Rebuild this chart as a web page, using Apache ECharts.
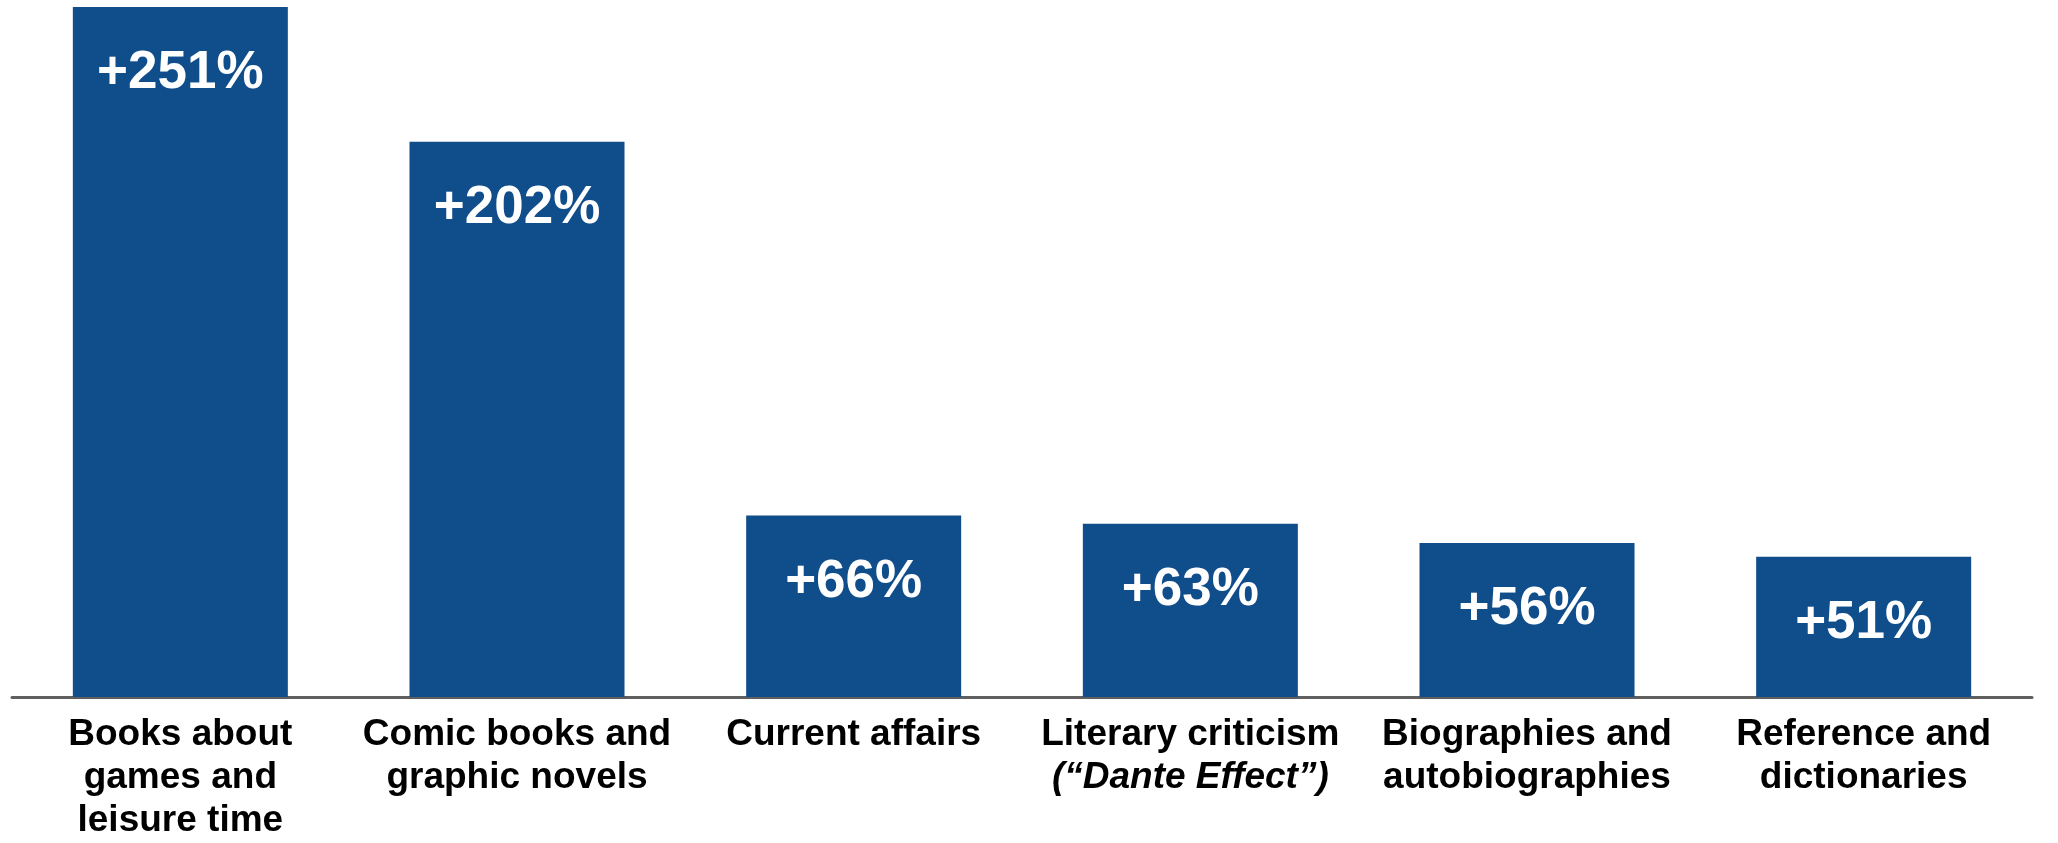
<!DOCTYPE html>
<html>
<head>
<meta charset="utf-8">
<script src="https://cdn.jsdelivr.net/npm/echarts@6/dist/echarts.min.js"></script>
<style>
html,body{margin:0;padding:0;background:#fff;}
#chart{width:2058px;height:843px;}
</style>
</head>
<body>
<div id="chart"></div>
<script>
const categories = [
  "Books about\ngames and\nleisure time",
  "Comic books and\ngraphic novels",
  "Current affairs",
  "Literary criticism\n(\u201cDante Effect\u201d)",
  "Biographies and\nautobiographies",
  "Reference and\ndictionaries"
];
const growthValues = [251, 202, 66, 63, 56, 51];
const valueLabels = ["+251%", "+202%", "+66%", "+63%", "+56%", "+51%"];

const chart = echarts.init(document.getElementById('chart'));
const FONT = '"Liberation Sans", Arial, sans-serif';
chart.setOption({
  animation: false,
  backgroundColor: '#ffffff',
  grid: { left: 12, right: 26, top: 7, bottom: 146 },
  xAxis: {
    type: 'category',
    data: categories,
    axisTick: { show: false },
    axisLine: { show: true, lineStyle: { color: '#5f5f5f', width: 3 } },
    axisLabel: {
      interval: 0,
      margin: 16,
      color: '#000',
      fontFamily: FONT,
      fontWeight: 'bold',
      fontSize: 37,
      lineHeight: 43,
      formatter: function (v) {
        return v.split('\n').map(function (line) {
          return /^\(.*\)$/.test(line) ? '{i|' + line + '}' : line;
        }).join('\n');
      },
      rich: {
        i: {
          fontStyle: 'italic',
          fontWeight: 'bold',
          fontSize: 37,
          lineHeight: 43,
          color: '#000',
          fontFamily: FONT
        }
      }
    }
  },
  yAxis: {
    type: 'value',
    min: 0,
    max: 251,
    show: false,
    splitLine: { show: false }
  },
  series: [{
    type: 'bar',
    data: growthValues,
    barWidth: 215,
    itemStyle: { color: '#0f4d8b' },
    label: {
      show: true,
      position: 'insideTop',
      distance: 40,
      color: '#ffffff',
      fontFamily: FONT,
      fontWeight: 'bold',
      fontSize: 53,
      formatter: function (p) { return valueLabels[p.dataIndex]; }
    }
  }]
});
</script>
</body>
</html>
